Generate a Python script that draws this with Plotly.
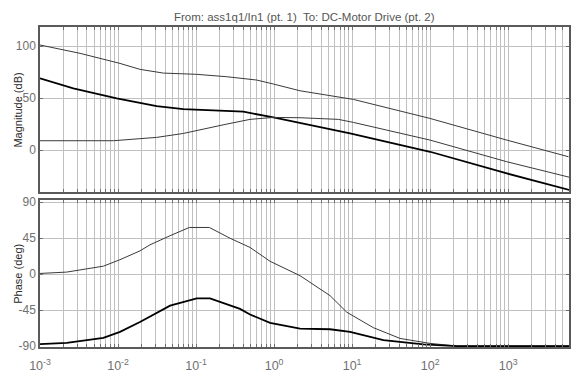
import plotly.graph_objects as go

# Bode diagram: From ass1q1/In1 (pt. 1) To DC-Motor Drive (pt. 2)

# Magnitude responses (frequency in rad/s, magnitude in dB)
mag_a_w = [0.001, 0.00326, 0.0106, 0.0191, 0.0381, 0.102, 0.248, 0.6, 0.98, 2.15, 10.4, 100, 962, 5930]
mag_a_db = [101, 93, 83.3, 77.6, 74, 72.8, 70.5, 67.3, 63.5, 57, 48.7, 30.4, 9.6, -6.4]

mag_b_w = [0.001, 0.00267, 0.00962, 0.0313, 0.0687, 0.203, 0.404, 0.98, 2.15, 9.42, 100, 962, 6240]
mag_b_db = [69, 59.3, 49.7, 42.3, 39.4, 38.1, 36.9, 31.4, 26.3, 16, -1.6, -22.4, -38.5]

mag_c_w = [0.001, 0.00871, 0.0313, 0.0687, 0.248, 0.492, 0.98, 2.15, 6.67, 10.4, 100, 962, 6240]
mag_c_db = [9, 9, 12.2, 16, 25, 29.5, 31.4, 31.1, 29.5, 26.6, 9.6, -11.2, -26.3]

# Phase responses (deg)
ph_d_w = [0.001, 0.0022, 0.00649, 0.0106, 0.0191, 0.0257, 0.0465, 0.082, 0.148, 0.273, 0.492,
          0.889, 2.15, 5.22, 8.55, 18.7, 41.2, 100, 220, 6030]
ph_d_deg = [0.8, 2.5, 9.9, 18, 29, 36.6, 48, 58.3, 58.3, 44.8, 33.3,
            16, -2, -27, -47.7, -67, -80.5, -86.7, -90, -90]

ph_e_w = [0.001, 0.0022, 0.00649, 0.0106, 0.0191, 0.0465, 0.102, 0.151, 0.366, 0.492, 0.889,
          2.15, 5.22, 9.42, 25.2, 82, 220, 6030]
ph_e_deg = [-87.5, -86, -79.7, -72.3, -60, -39.5, -30.4, -30.4, -43.6, -50.5, -61,
            -68.2, -69, -72.3, -82.6, -88, -90, -90]

# Axis ticks
decades = [-3, -2, -1, 0, 1, 2, 3]
mag_ticks = [0, 50, 100]
phase_ticks = [-90, -45, 0, 45, 90]

major_vals = [10.0 ** d for d in decades]
major_text = [f"10<sup>{d}</sup>" for d in decades]
minor_vals = [k * 10.0 ** d for d in decades for k in range(2, 10)]

FONT = "Liberation Sans, Arial, sans-serif"
GRID = "#c0c0c0"
FRAME = "#5a5a5a"
TICKFONT = dict(family=FONT, size=12, color="#707070")

fig = go.Figure()

thin = dict(color="#3a3a3a", width=1)
thick = dict(color="#000000", width=1.8)

fig.add_trace(go.Scatter(x=mag_a_w, y=mag_a_db, mode="lines", line=thin, xaxis="x2", yaxis="y2"))
fig.add_trace(go.Scatter(x=mag_b_w, y=mag_b_db, mode="lines", line=thick, xaxis="x2", yaxis="y2"))
fig.add_trace(go.Scatter(x=mag_c_w, y=mag_c_db, mode="lines", line=thin, xaxis="x2", yaxis="y2"))
fig.add_trace(go.Scatter(x=ph_d_w, y=ph_d_deg, mode="lines", line=thin, xaxis="x", yaxis="y"))
fig.add_trace(go.Scatter(x=ph_e_w, y=ph_e_deg, mode="lines", line=thick, xaxis="x", yaxis="y"))

xcommon = dict(
    type="log", range=[-3, 3.78], tickmode="array", tickvals=major_vals,
    showgrid=True, gridcolor=GRID, gridwidth=1, zeroline=False,
    showline=True, linecolor=FRAME, linewidth=1.5, mirror="allticks",
    ticks="inside", ticklen=3, tickcolor="#707070", automargin=False,
    minor=dict(tickmode="array", tickvals=minor_vals, showgrid=True, gridcolor=GRID,
               gridwidth=1, ticks="inside", ticklen=3, tickcolor="#707070"),
)
ycommon = dict(
    tickmode="array", showgrid=True, gridcolor=GRID, gridwidth=1, zeroline=False,
    showline=True, linecolor=FRAME, linewidth=1.5, mirror="allticks",
    ticks="inside", ticklen=3, tickcolor="#707070", tickfont=TICKFONT, automargin=False,
)

fig.update_layout(
    width=571, height=372,
    margin=dict(l=40, r=2, t=27, b=25),
    paper_bgcolor="white", plot_bgcolor="white",
    showlegend=False,
    xaxis=dict(xcommon, domain=[0, 1], anchor="y", ticktext=major_text, showticklabels=True,
               ticklabelstandoff=6, tickfont=dict(family=FONT, size=12.5, color="#707070")),
    xaxis2=dict(xcommon, domain=[0, 1], anchor="y2", matches="x", showticklabels=False),
    yaxis=dict(ycommon, domain=[0, 0.459], range=[-91.2, 92.5], tickvals=phase_ticks,
               ticktext=[str(v) for v in phase_ticks]),
    yaxis2=dict(ycommon, domain=[0.484, 1], range=[-40.4, 118.3], tickvals=mag_ticks,
                ticktext=[str(v) for v in mag_ticks]),
    annotations=[
        dict(text="From: ass1q1/In1 (pt. 1)  To: DC-Motor Drive (pt. 2)", xref="paper", yref="paper",
             x=0.5, y=1.031, xanchor="center", yanchor="middle", showarrow=False,
             font=dict(family=FONT, size=11.5, color="#555555")),
        dict(text="Magnitude (dB)", xref="paper", yref="paper", x=-0.0416, y=0.742,
             xanchor="center", yanchor="middle", textangle=-90, showarrow=False,
             font=dict(family=FONT, size=11, color="#2a2a2a")),
        dict(text="Phase (deg)", xref="paper", yref="paper", x=-0.0416, y=0.229,
             xanchor="center", yanchor="middle", textangle=-90, showarrow=False,
             font=dict(family=FONT, size=11, color="#2a2a2a")),
    ],
)

fig.write_html("out.html")
